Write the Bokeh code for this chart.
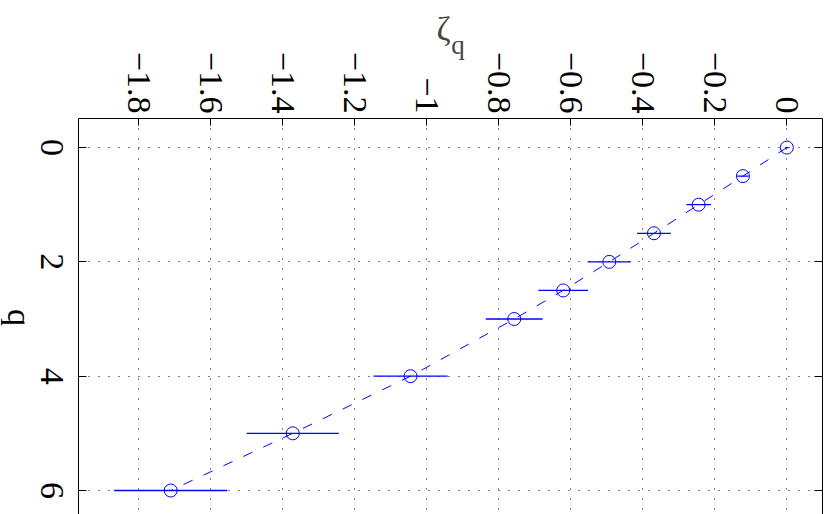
import math

from bokeh.plotting import figure
from bokeh.layouts import row
from bokeh.models import (ColumnDataSource, Range1d, LinearAxis, FixedTicker,
                          Label, LabelSet)
from bokeh.embed import file_html
from bokeh.resources import INLINE

# Scaling exponents zeta_q with their uncertainties
q_values = [0, 0.5, 1, 1.5, 2, 2.5, 3, 4, 5, 6]
zeta_values = [0.0, -0.122, -0.245, -0.369, -0.493, -0.621, -0.757, -1.045, -1.372, -1.711]
zeta_errors = [0.005, 0.016, 0.034, 0.047, 0.060, 0.069, 0.079, 0.103, 0.128, 0.157]

# Axis ticks and their labels
zeta_ticks = [-1.8, -1.6, -1.4, -1.2, -1.0, -0.8, -0.6, -0.4, -0.2, 0.0]
zeta_tick_labels = ["−1.8", "−1.6", "−1.4", "−1.2", "−1", "−0.8", "−0.6", "−0.4", "−0.2", "0"]
q_ticks = [0, 2, 4, 6]
q_tick_labels = ["0", "2", "4", "6"]

# Axis titles
x_title = "ζ"
x_title_sub = "q"
y_title = "q"

FONT = "Liberation Serif"
BLUE = "#0000ff"
FS = "34px"

WIDTH, HEIGHT = 833, 514
STRIP = 75                # left column holding the rotated q labels
FRAME_TOP = 118

src = ColumnDataSource(dict(
    q=q_values,
    zeta=zeta_values,
    lo=[z - e for z, e in zip(zeta_values, zeta_errors)],
    hi=[z + e for z, e in zip(zeta_values, zeta_errors)],
))

q_range = Range1d(6.42, -0.508)

main = figure(
    width=WIDTH - STRIP, height=HEIGHT,
    frame_width=744, frame_height=HEIGHT - FRAME_TOP,
    min_border_left=3, min_border_right=11,
    min_border_top=FRAME_TOP, min_border_bottom=0,
    x_range=Range1d(-1.967, 0.099),
    y_range=q_range,
    x_axis_location="above",
    output_backend="svg", toolbar_location=None,
    background_fill_color="white", border_fill_color="white",
)
main.outline_line_color = None


def bare(axis):
    """Hide lines and ticks of an axis that only carries text."""
    axis.axis_line_color = None
    axis.major_tick_line_color = None
    axis.minor_tick_line_color = None
    axis.major_tick_out = 0
    axis.major_tick_in = 0


# top axis: zeta_q
xa = main.xaxis[0]
xa.ticker = FixedTicker(ticks=zeta_ticks)
xa.major_label_overrides = {t: s for t, s in zip(zeta_ticks, zeta_tick_labels)}
xa.major_label_orientation = -math.pi / 2
xa.major_label_text_font = FONT
xa.major_label_text_font_size = FS
xa.major_label_text_color = "black"
xa.major_label_standoff = 5
xa.major_tick_in = 7
xa.major_tick_out = 0
xa.minor_tick_line_color = None
xa.axis_line_color = "black"
xa.major_tick_line_color = "black"

# title of the top axis: zeta with a subscript q
title_x = -0.953
sub_x = -0.913
sub_axis = LinearAxis(ticker=FixedTicker(ticks=[sub_x]))
bare(sub_axis)
sub_axis.major_label_overrides = {sub_x: x_title_sub}
sub_axis.major_label_text_font = FONT
sub_axis.major_label_text_font_size = "27px"
sub_axis.major_label_standoff = -11
main.add_layout(sub_axis, "above")

zeta_axis = LinearAxis(ticker=FixedTicker(ticks=[title_x]))
bare(zeta_axis)
zeta_axis.major_label_overrides = {title_x: x_title}
zeta_axis.major_label_text_font = FONT
zeta_axis.major_label_text_font_size = FS
zeta_axis.major_label_standoff = -20
main.add_layout(zeta_axis, "above")

# left axis line and ticks; its rotated labels live in the strip on the left
ya = main.yaxis[0]
ya.ticker = FixedTicker(ticks=q_ticks)
ya.major_label_text_font_size = "1px"
ya.major_label_text_color = None
ya.major_label_standoff = 0
ya.major_tick_in = 8
ya.major_tick_out = 0
ya.minor_tick_line_color = None
ya.axis_line_color = "black"
ya.major_tick_line_color = "black"

# right border with mirrored ticks
ra = LinearAxis(ticker=FixedTicker(ticks=q_ticks))
ra.major_label_text_font_size = "1px"
ra.major_label_text_color = None
ra.major_label_standoff = 0
ra.major_tick_in = 8
ra.major_tick_out = 0
ra.minor_tick_line_color = None
ra.axis_line_color = "black"
ra.major_tick_line_color = "black"
main.add_layout(ra, "right")

# dotted grid
for g in (main.xgrid[0], main.ygrid[0]):
    g.grid_line_color = "black"
    g.grid_line_dash = "1 9"
    g.grid_line_width = 1

# error bars, dashed connecting line and open circles
main.segment(x0="lo", x1="hi", y0="q", y1="q", source=src,
             line_color=BLUE, line_width=1.3)
main.line(x="zeta", y="q", source=src, line_color=BLUE, line_width=1,
          line_dash="10 12")
main.scatter(x="zeta", y="q", source=src, marker="circle", size=13,
             fill_color=None, line_color=BLUE, line_width=1)

# left strip: clockwise-rotated q tick labels and q title, sharing the q range
strip = figure(
    width=STRIP, height=HEIGHT,
    frame_width=STRIP, frame_height=HEIGHT - FRAME_TOP,
    x_range=Range1d(0, STRIP), y_range=q_range,
    min_border_left=0, min_border_right=0,
    min_border_top=FRAME_TOP, min_border_bottom=0,
    x_axis_location=None, y_axis_location=None,
    output_backend="svg", toolbar_location=None,
    background_fill_color="white", border_fill_color="white",
)
strip.outline_line_color = None
strip.xgrid.visible = False
strip.ygrid.visible = False

tick_src = ColumnDataSource(dict(q=q_ticks, text=q_tick_labels))
strip.add_layout(LabelSet(
    x=51, y="q", text="text", source=tick_src, angle=-math.pi / 2,
    text_font=FONT, text_font_size=FS, text_color="black",
    text_align="center", text_baseline="middle",
))
strip.add_layout(Label(
    x=18.5, y=2.972, text=y_title, angle=-math.pi / 2,
    text_font=FONT, text_font_size=FS, text_color="black",
    text_align="center", text_baseline="middle",
))

p = row(strip, main, spacing=0)

open("out.html", "w").write(file_html(p, INLINE))
